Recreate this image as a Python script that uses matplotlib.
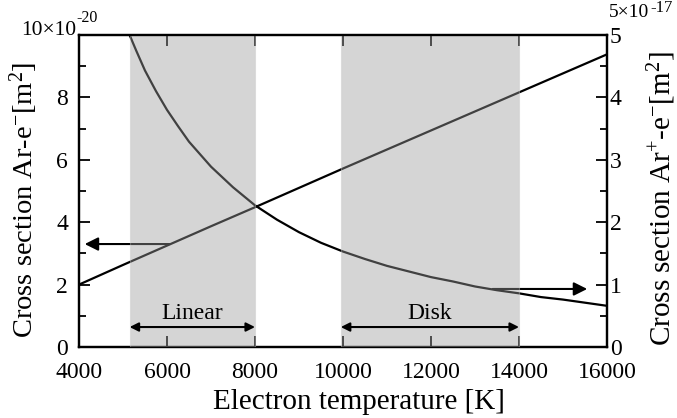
import matplotlib
matplotlib.use("Agg")
import matplotlib.pyplot as plt
from matplotlib.ticker import MultipleLocator, FixedLocator

plt.rcParams['font.family'] = ['Liberation Serif', 'DejaVu Serif']
plt.rcParams['mathtext.fontset'] = 'custom'
plt.rcParams['mathtext.rm'] = 'Liberation Serif'
plt.rcParams['mathtext.it'] = 'Liberation Serif:italic'

# Data
temp_ar = [4000, 5000, 6000, 7000, 8000, 9000, 10000, 11000, 12000, 13000, 14000, 15000, 16000]
sigma_ar = [2.0, 2.63, 3.25, 3.87, 4.48, 5.10, 5.72, 6.33, 6.94, 7.55, 8.16, 8.77, 9.38]  # x1e-20 m^2

temp_ion = [5150, 5300, 5500, 5750, 6000, 6250, 6500, 7000, 7500, 8000, 8500, 9000, 9500, 10000,
            10500, 11000, 11500, 12000, 12500, 13000, 13500, 14000, 14500, 15000, 15500, 16000]
sigma_ion = [5.0, 4.75, 4.43, 4.10, 3.80, 3.54, 3.29, 2.89, 2.56, 2.27, 2.04, 1.84, 1.67, 1.53,
             1.41, 1.30, 1.21, 1.12, 1.05, 0.97, 0.91, 0.86, 0.80, 0.76, 0.71, 0.66]  # x1e-17 m^2

regions = [(5150, 8000, "Linear"), (9950, 14000, "Disk")]
x_ticks = [4000, 6000, 8000, 10000, 12000, 14000, 16000]
left_ticks = [0, 2, 4, 6, 8, 10]
left_ticklabels = ["0", "2", "4", "6", "8", ""]
right_ticks = [0, 1, 2, 3, 4, 5]

fig = plt.figure(figsize=(6.77, 4.18), dpi=100)
ax = fig.add_axes([79/677, 1-347/418, (607-79)/677, (347-35)/418])
ax2 = ax.twinx()

lw = 1.6
ax.plot(temp_ar, sigma_ar, color='k', lw=lw, zorder=2)
ax2.plot(temp_ion, sigma_ion, color='k', lw=lw, zorder=2)

ax.set_xlim(4000, 16000)
ax.set_ylim(0, 10)
ax2.set_ylim(0, 5)

ax.xaxis.set_major_locator(FixedLocator(x_ticks))
ax.yaxis.set_major_locator(FixedLocator(left_ticks))
ax.set_yticklabels(left_ticklabels)
ax.yaxis.set_minor_locator(MultipleLocator(1))
ax2.yaxis.set_major_locator(FixedLocator(right_ticks))
ax2.yaxis.set_minor_locator(MultipleLocator(0.5))

fs_tick = 17
ax.tick_params(axis='x', which='major', direction='in', top=True, length=8, width=1.3,
               labelsize=fs_tick, pad=11)
ax.tick_params(axis='y', which='major', direction='in', right=False, length=8, width=1.3,
               labelsize=fs_tick, pad=8)
ax.tick_params(axis='y', which='minor', direction='in', right=False, length=5, width=1.3)
ax2.tick_params(axis='y', which='major', direction='in', length=8, width=1.3,
                labelsize=fs_tick, pad=2)
ax2.tick_params(axis='y', which='minor', direction='in', length=5, width=1.3)

for a in (ax, ax2):
    for s in a.spines.values():
        s.set_linewidth(1.6)
ax2.spines['top'].set_zorder(4)

# arrows pointing to axes (under shading)
ax.annotate("", xy=(4130, 3.3), xytext=(6070, 3.3),
            arrowprops=dict(arrowstyle='-|>', color='k', lw=1.5, mutation_scale=20,
                            shrinkA=0, shrinkB=0), zorder=2)
ax2.annotate("", xy=(15550, 0.93), xytext=(13400, 0.93),
             arrowprops=dict(arrowstyle='-|>', color='k', lw=1.5, mutation_scale=20,
                             shrinkA=0, shrinkB=0), zorder=2)

# shaded regions
for x0, x1, name in regions:
    ax2.axvspan(x0, x1, facecolor='#9c9c9c', alpha=0.42, edgecolor='#c8c8c8', lw=0.8, zorder=3)
    ax2.annotate("", xy=(x0, 0.32), xytext=(x1, 0.32),
                 arrowprops=dict(arrowstyle='<|-|>', color='k', lw=1.5, mutation_scale=13,
                                 shrinkA=0, shrinkB=0), zorder=5)
    ax2.text((x0 + x1) / 2, 0.53, name, ha='center', va='center', fontsize=17, zorder=5)

ax.set_xlabel("Electron temperature [K]", fontsize=21)
ax.xaxis.set_label_coords(0.53, -0.135)
ax.set_ylabel(r"Cross section Ar-e$^{-}$[m$^{2}$]", fontsize=20.5)
ax.yaxis.set_label_coords(-0.074, 0.47)
ax2.set_ylabel(r"Cross section Ar$^{+}$-e$^{-}$[m$^{2}$]", fontsize=21)
ax2.yaxis.set_label_coords(1.072, 0.475)

# axis multipliers
fig.text(76/677, 1-35/418, "10×10", ha='right', va='baseline', fontsize=15.5)
fig.text(76/677, 1-22/418, "-20", ha='left', va='baseline', fontsize=11.5)
fig.text(609/677, 1-17/418, "5×10", ha='left', va='baseline', fontsize=14)
fig.text(650/677, 1-12/418, "-17", ha='left', va='baseline', fontsize=12)

fig.savefig("out.png", dpi=100)
